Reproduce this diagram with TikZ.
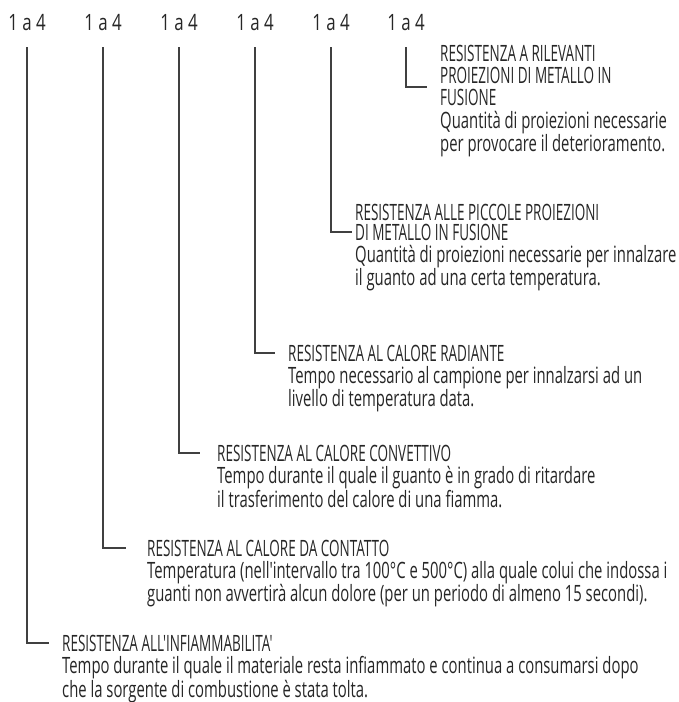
\documentclass[tikz,border=0pt]{standalone}
\usepackage{fontspec}
\setmainfont{Open Sans}[FakeStretch=0.66, Ligatures=TeXOff]
\newfontfamily\capsfont{Open Sans}[FakeStretch=0.60, Ligatures=TeXOff]
\newfontfamily\levelfont{Open Sans}[FakeStretch=0.75]
\usetikzlibrary{positioning}

\tikzset{
    rating/.style={inner sep=0pt, anchor=base, text=black!85, font=\levelfont\fontsize{22.5}{22}\selectfont},
    heading/.style={inner sep=0pt, anchor=base west, align=left, text=black!85, font=\capsfont\fontsize{22.5}{22}\selectfont},
    note/.style={inner sep=0pt, align=left, text=black!85, font=\fontsize{22.5}{22}\selectfont},
    leader/.style={draw=black!75, line width=1.4pt},
}

\begin{document}
\begin{tikzpicture}[x=1pt, y=-1pt]
    \useasboundingbox (0,0) rectangle (678,702);
    % levels
    \node[rating] (r1) at (27,30) {1 a 4};
    \node[rating] (r2) at (103,30) {1 a 4};
    \node[rating] (r3) at (179,30) {1 a 4};
    \node[rating] (r4) at (255,30) {1 a 4};
    \node[rating] (r5) at (331,30) {1 a 4};
    \node[rating] (r6) at (406,30) {1 a 4};

    % headings
    \node[heading] (h1) at (62,651) {RESISTENZA ALL'INFIAMMABILITA'};
    \node[heading] (h2) at (147,556) {RESISTENZA AL CALORE DA CONTATTO};
    \node[heading] (h3) at (217,461) {RESISTENZA AL CALORE CONVETTIVO};
    \node[heading] (h4) at (288,361) {RESISTENZA AL CALORE RADIANTE};
    \node[heading] (h5) at (355,220) {RESISTENZA ALLE PICCOLE PROIEZIONI};
    \node[heading] (h5b) at (355,240) {DI METALLO IN FUSIONE};
    \node[heading, anchor=north west] (h6) at (440,45) {RESISTENZA A RILEVANTI\\PROIEZIONI DI METALLO IN\\FUSIONE};

    % descriptions
    \node[note, below=5pt of h1.base west, anchor=north west] (n1) {Tempo durante il quale il materiale resta infiammato e continua a consumarsi dopo\\che la sorgente di combustione è stata tolta.};
    \node[note, below=5pt of h2.base west, anchor=north west] (n2) {Temperatura (nell'intervallo tra 100°C e 500°C) alla quale colui che indossa i\\guanti non avvertirà alcun dolore (per un periodo di almeno 15 secondi).};
    \node[note, below=5pt of h3.base west, anchor=north west] (n3) {Tempo durante il quale il guanto è in grado di ritardare\\il trasferimento del calore di una fiamma.};
    \node[note, below=5pt of h4.base west, anchor=north west] (n4) {Tempo necessario al campione per innalzarsi ad un\\livello di temperatura data.};
    \node[note, below=5pt of h5b.base west, anchor=north west] (n5) {Quantità di proiezioni necessarie per innalzare\\il guanto ad una certa temperatura.};
    \node[note, below=5pt of h6.south west, anchor=north west] (n6) {Quantità di proiezioni necessarie\\per provocare il deterioramento.};

    % leaders
    \draw[leader] ([yshift=-17pt]r1.south) |- ([xshift=-13pt]h1.west);
    \draw[leader] ([yshift=-17pt]r2.south) |- ([xshift=-21pt]h2.west);
    \draw[leader] ([yshift=-17pt]r3.south) |- ([xshift=-17pt]h3.west);
    \draw[leader] ([yshift=-17pt]r4.south) |- ([xshift=-13pt]h4.west);
    \draw[leader] ([yshift=-17pt]r5.south) |- ([xshift=-3pt]h5b.west);
    \draw[leader] ([yshift=-17pt]r6.south) |- ([xshift=-13pt, yshift=19pt]h6.south west);
\end{tikzpicture}
\end{document}
